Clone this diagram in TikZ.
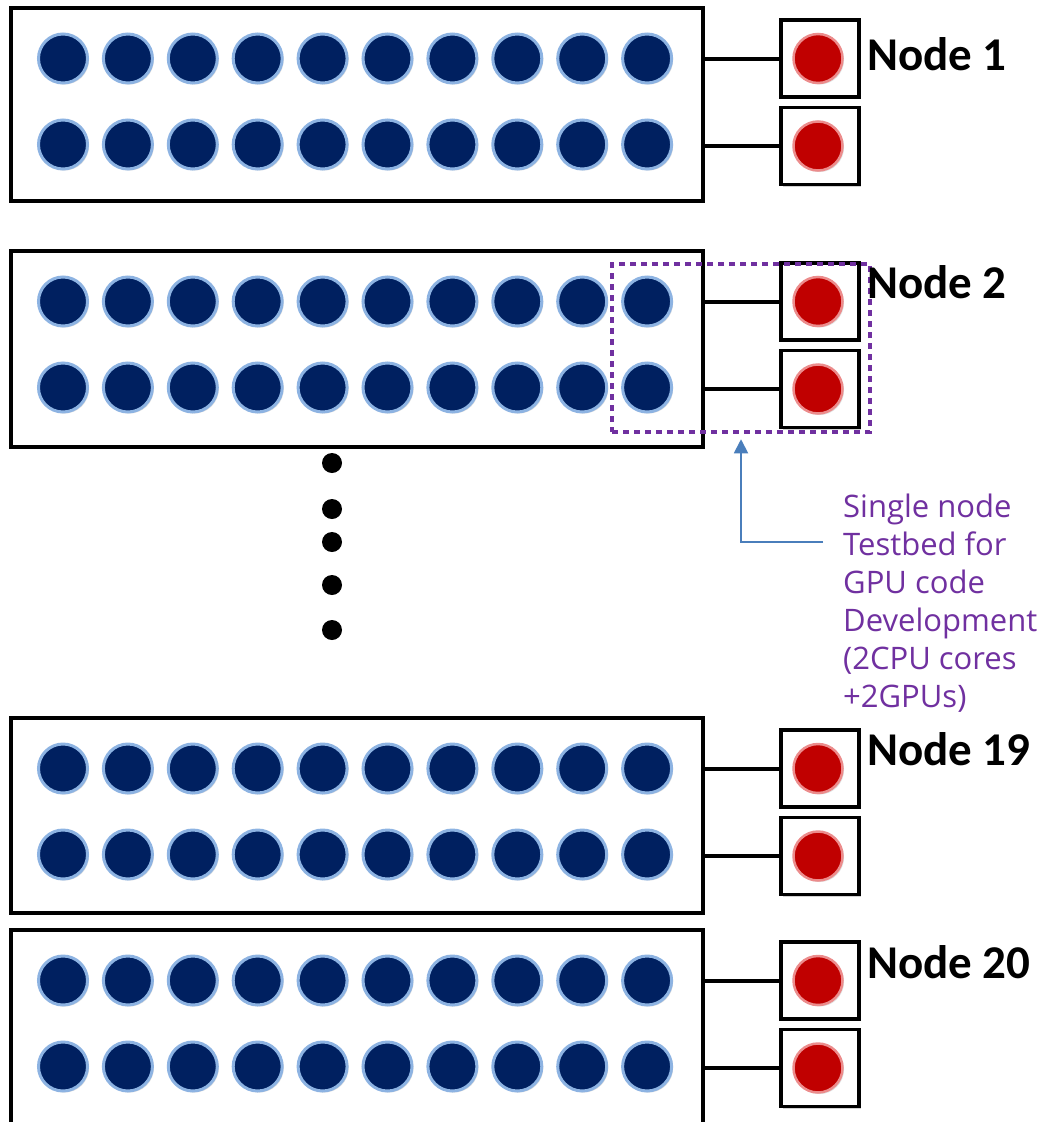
\documentclass[tikz,border=0pt]{standalone}
\usepackage{fontspec}
\setmainfont{Carlito}
\newfontfamily\notefont{Open Sans}
\usetikzlibrary{arrows.meta,shadows}
\definecolor{navy}{RGB}{0,32,96}
\definecolor{navyedge}{RGB}{141,179,226}
\definecolor{gpured}{RGB}{192,0,0}
\definecolor{gpuedge}{RGB}{236,140,140}
\definecolor{notepurple}{RGB}{112,48,160}
\definecolor{arrowblue}{RGB}{74,126,187}
\begin{document}
\begin{tikzpicture}[x=1pt,y=-1pt,
  nodebox/.style={draw=black, line width=3.2pt, fill=white, minimum width=692pt,
    inner sep=0pt, outer sep=0pt, anchor=north west,
    drop shadow={shadow xshift=2pt, shadow yshift=-2pt, opacity=0.35}},
  cpu/.style={circle, draw=navyedge, fill=navy, line width=3pt, minimum size=49pt, inner sep=0pt,
    drop shadow={shadow xshift=1.5pt, shadow yshift=-1.5pt, opacity=0.25}},
  gpubox/.style={draw=black, line width=3.2pt, fill=white, minimum width=78pt, minimum height=77pt,
    inner sep=0pt, outer sep=0pt,
    drop shadow={shadow xshift=2pt, shadow yshift=-2pt, opacity=0.35}},
  gpu/.style={circle, draw=gpuedge, fill=gpured, line width=2.5pt, minimum size=49pt, inner sep=0pt,
    drop shadow={shadow xshift=1.5pt, shadow yshift=-1.5pt, opacity=0.25}},
  link/.style={draw=black, line width=4pt},
  nodelabel/.style={anchor=base west, inner sep=0pt, font=\bfseries\fontsize{47}{50}\selectfont},
  vdot/.style={circle, fill=black, minimum size=20pt, inner sep=0pt},
  testbedbox/.style={draw=notepurple, line width=4.5pt, dash pattern=on 6pt off 5pt,
    minimum width=258pt, minimum height=168pt, inner sep=0pt},
  notetext/.style={anchor=base west, align=left, inner sep=0pt, text=notepurple,
    font=\notefont\fontsize{31}{38}\selectfont},
  pointer/.style={draw=arrowblue, line width=1.8pt, -{Triangle[width=14pt,length=14pt]}}
]
\useasboundingbox (0,0) rectangle (1039,1122);
\clip (0,0) rectangle (1039,1122);
\fill[white] (0,0) rectangle (1039,1122);
\foreach \b/\t/\h/\ly in {1/8/193/70, 2/251/196/298, 19/718/195/765, 20/930/250/978}{
  \node[nodebox, minimum height=\h] (box\b) at (11,\t) {};
  \foreach \i in {0,...,9}{
    \node[cpu] (cpu\b-1-\i) at ({63+\i*64.9},\t+50.5) {};
    \node[cpu] (cpu\b-2-\i) at ({63+\i*64.9},\t+136.5) {};
  }
  \coordinate (gc\b-1) at (820,\t+50.5);
  \coordinate (gc\b-2) at (820,\t+138);
  \node[gpubox] (gpu\b-1) at (gc\b-1) {};
  \node[gpubox] (gpu\b-2) at (gc\b-2) {};
  \draw[link] (gpu\b-1.west) -- (gpu\b-1.west -| box\b.east);
  \draw[link] (gpu\b-2.west) -- (gpu\b-2.west -| box\b.east);
  \node[gpu] (g\b-1) at ([xshift=-2pt]gpu\b-1.center) {};
  \node[gpu] (g\b-2) at ([xshift=-2pt]gpu\b-2.center) {};
}
% vertical ellipsis
\foreach \k/\y in {1/463, 2/509, 3/542, 4/585, 5/630}{
  \node[vdot] (dot\k) at (332,\y) {};
}
% testbed highlight
\node[testbedbox] (testbed) at (741,348) {};
% labels
\node[nodelabel] (lab1) at (867,70) {Node 1};
\node[nodelabel] (lab2) at (867,298) {Node 2};
\node[nodelabel] (lab19) at (867,765) {Node 19};
\node[nodelabel] (lab20) at (867,978) {Node 20};
% annotation (base anchor is the baseline of the last line)
\node[notetext] (note) at (843,707) {Single node\\Testbed for\\GPU code\\Development\\(2CPU cores\\+2GPUs)};
\coordinate (notestart) at (823,542);
\draw[pointer] (notestart) -| ([yshift=-5pt]testbed.south);
\end{tikzpicture}
\end{document}
